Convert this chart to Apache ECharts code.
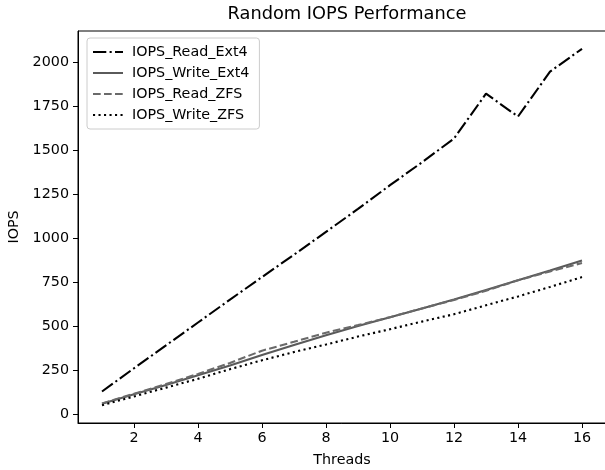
<!DOCTYPE html>
<html>
<head>
<meta charset="utf-8">
<script src="https://cdn.jsdelivr.net/npm/echarts@6/dist/echarts.min.js"></script>
<style>html,body{margin:0;padding:0;background:#fff}#c{width:605px;height:470px}</style>
</head>
<body>
<div id="c"></div>
<script>
var threads = [1,2,3,4,5,6,7,8,9,10,11,12,13,14,15,16];
var readExt4  = [128, 260, 390, 520, 650, 778, 905, 1035, 1165, 1300, 1430, 1565, 1820, 1690, 1945, 2075];
var writeExt4 = [58, 112, 165, 220, 275, 335, 392, 448, 500, 550, 600, 650, 705, 760, 815, 872];
var readZFS   = [60, 115, 170, 228, 290, 360, 410, 462, 505, 550, 600, 648, 700, 760, 810, 858];
var writeZFS  = [50, 100, 150, 200, 255, 305, 352, 395, 440, 482, 525, 567, 618, 668, 722, 778];
var xTicks = [2,4,6,8,10,12,14,16];
var yTicks = [0,250,500,750,1000,1250,1500,1750,2000];

function pairs(v){ return threads.map(function(t,i){ return [t, v[i]]; }); }
var FONT = 'DejaVu Sans';
var FS = 14.3;
var chart = echarts.init(document.getElementById('c'), null, {renderer:'canvas'});
chart.setOption({
  animation: false,
  backgroundColor: '#fff',
  textStyle: {fontFamily: FONT},
  title: {
    text: 'Random IOPS Performance',
    left: 342, top: 0, textAlign: 'center',
    textStyle: {fontFamily: FONT, fontSize: 17.8, fontWeight: 'normal', color: '#000'}
  },
  grid: {left: 78, top: 31, width: 528, height: 392, show: true, borderColor: '#000', borderWidth: 1,
         backgroundColor: 'transparent', containLabel: false, outerBoundsMode: 'none'},
  legend: {
    left: 87, top: 38, orient: 'vertical',
    itemWidth: 30, itemHeight: 14, itemGap: 7,
    padding: [7, 10, 7, 5],
    borderColor: '#cccccc', borderWidth: 1, borderRadius: 3,
    backgroundColor: 'rgba(255,255,255,0.8)',
    itemStyle: {opacity: 0},
    textStyle: {fontFamily: FONT, fontSize: FS, color: '#000', padding: [0,0,0,4]},
    data: ['IOPS_Read_Ext4','IOPS_Write_Ext4','IOPS_Read_ZFS','IOPS_Write_ZFS']
  },
  xAxis: {
    type: 'value', min: 0.25, max: 16.75,
    name: 'Threads', nameLocation: 'middle', nameGap: 30,
    nameTextStyle: {fontFamily: FONT, fontSize: FS, color: '#000'},
    axisLine: {show: true, onZero: false, lineStyle: {color: '#000', width: 1}},
    axisTick: {show: true, length: 5, lineStyle: {color: '#000'}, customValues: xTicks},
    axisLabel: {fontFamily: FONT, fontSize: FS, color: '#000', margin: 8, customValues: xTicks,
                formatter: function(v){ return String(v); }},
    splitLine: {show: false}
  },
  yAxis: {
    type: 'value', min: -51, max: 2176,
    name: 'IOPS', nameLocation: 'middle', nameGap: 42, nameRotate: 90,
    nameTextStyle: {fontFamily: FONT, fontSize: FS, color: '#000'},
    axisLine: {show: true, onZero: false, lineStyle: {color: '#000', width: 1}},
    axisTick: {show: true, length: 5, lineStyle: {color: '#000'}, customValues: yTicks},
    axisLabel: {fontFamily: FONT, fontSize: FS, color: '#000', margin: 9, customValues: yTicks,
                formatter: function(v){ return String(v); }},
    splitLine: {show: false}
  },
  series: [
    {name: 'IOPS_Read_Ext4', type: 'line', data: pairs(readExt4), symbol: 'none',
     itemStyle: {color: '#000'},
     lineStyle: {color: '#000', width: 2.1, type: [13.3, 3.3, 2.1, 3.3]}},
    {name: 'IOPS_Write_Ext4', type: 'line', data: pairs(writeExt4), symbol: 'none',
     itemStyle: {color: '#5a5a5a'},
     lineStyle: {color: '#5a5a5a', width: 2.1, type: 'solid'}},
    {name: 'IOPS_Read_ZFS', type: 'line', data: pairs(readZFS), symbol: 'none',
     itemStyle: {color: '#6a6a6a'},
     lineStyle: {color: '#6a6a6a', width: 2.1, type: [7.7, 3.3]}},
    {name: 'IOPS_Write_ZFS', type: 'line', data: pairs(writeZFS), symbol: 'none',
     itemStyle: {color: '#000'},
     lineStyle: {color: '#000', width: 2.1, type: [2.1, 3.4]}}
  ]
});
</script>
</body>
</html>
